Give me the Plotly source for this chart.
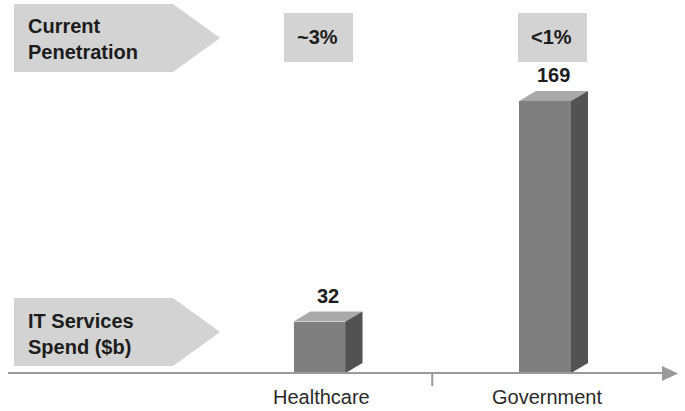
import plotly.graph_objects as go

# Data
categories = ["Healthcare", "Government"]
it_spend = [32, 169]                 # IT services spend, $b
penetration = ["~3%", "<1%"]         # current penetration
row_labels = ["Current<br>Penetration", "IT Services<br>Spend ($b)"]

W, H = 685, 411
FONT = "Liberation Sans, Arial, sans-serif"
TEXT = "#1c1c1c"
PANEL = "#d3d3d3"
FRONT, TOP, SIDE = "#7f7f7f", "#a9a9a9", "#525252"
AXIS = "#9a9a9a"

# Axis scales (data units per pixel)
px_per_x = 225.5
px_per_y = 1.6095
x0 = -319.5 / px_per_x
x_range = [x0, x0 + W / px_per_x]
y0 = -(H - 373) / px_per_y
y_range = [y0, y0 + H / px_per_y]

bar_w = 52 / px_per_x
depth_x = 17 / px_per_x
depth_y = 10 / px_per_y

xs = list(range(len(categories)))

fig = go.Figure()

# Front faces
fig.add_trace(go.Bar(x=xs, y=it_spend, width=bar_w, marker=dict(color=FRONT, line=dict(width=0)),
                     hoverinfo="skip", showlegend=False))

# Top and side faces for the 3D look
for x, v in zip(xs, it_spend):
    l, r = x - bar_w / 2, x + bar_w / 2
    fig.add_trace(go.Scatter(
        x=[l, r, r + depth_x, l + depth_x, l], y=[v, v, v + depth_y, v + depth_y, v],
        fill="toself", fillcolor=TOP, mode="lines", line=dict(width=0, color=TOP),
        hoverinfo="skip", showlegend=False))
    fig.add_trace(go.Scatter(
        x=[r, r + depth_x, r + depth_x, r, r], y=[0, depth_y, v + depth_y, v, 0],
        fill="toself", fillcolor=SIDE, mode="lines", line=dict(width=0, color=SIDE),
        hoverinfo="skip", showlegend=False))


def px(x, y):
    return x / W, 1 - y / H


def path(points):
    pts = [px(x, y) for x, y in points]
    return "M " + " L ".join(f"{a:.5f},{b:.5f}" for a, b in pts) + " Z"


shapes = []
# Row header arrows
for top, bot in [(4, 72), (298, 366)]:
    mid = (top + bot) / 2
    shapes.append(dict(type="path", xref="paper", yref="paper",
                       path=path([(14, top), (173, top), (220, mid), (173, bot), (14, bot)]),
                       fillcolor=PANEL, line=dict(width=0), layer="below"))

# Penetration boxes (pixel centres)
box_centers = [318.5, 552.5]
box_half = 34.5
for cx in box_centers:
    shapes.append(dict(type="rect", xref="paper", yref="paper",
                       x0=(cx - box_half) / W, x1=(cx + box_half) / W,
                       y0=1 - 62 / H, y1=1 - 13 / H,
                       fillcolor=PANEL, line=dict(width=0), layer="below"))

# Baseline axis with arrowhead and category divider
shapes.append(dict(type="line", xref="paper", yref="y", x0=8 / W, x1=664 / W, y0=0, y1=0,
                   line=dict(color=AXIS, width=2)))
shapes.append(dict(type="path", xref="paper", yref="paper",
                   path=path([(662, 366), (678, 373.5), (662, 381)]),
                   fillcolor=AXIS, line=dict(width=0)))
shapes.append(dict(type="line", xref="x", yref="paper", x0=0.5, x1=0.5,
                   y0=1 - 386 / H, y1=1 - 373 / H, line=dict(color=AXIS, width=2)))

annotations = []
# Row header text
for label, cy in zip(row_labels, [39, 334]):
    annotations.append(dict(text=label, xref="paper", yref="paper", x=26 / W, y=1 - cy / H,
                            xanchor="left", yanchor="middle", align="left", showarrow=False,
                            font=dict(family=FONT, size=20, color=TEXT, weight="bold")))

# Penetration labels
for p, cx in zip(penetration, box_centers):
    annotations.append(dict(text=p, x=(cx - 1) / W, y=1 - 37 / H, xref="paper", yref="paper",
                            xanchor="center", yanchor="middle", showarrow=False,
                            font=dict(family=FONT, size=20, color=TEXT, weight="bold")))

for x, v, c in zip(xs, it_spend, categories):
    # Value labels
    annotations.append(dict(text=str(v), x=x + depth_x / 2, y=v + depth_y, xref="x", yref="y",
                            xanchor="center", yanchor="bottom", yshift=3, showarrow=False,
                            font=dict(family=FONT, size=20, color=TEXT, weight="bold")))
    # Category labels
    annotations.append(dict(text=c, x=x + 0.01, y=0, xref="x", yref="y",
                            xanchor="center", yanchor="middle",
                            yshift=-24, showarrow=False,
                            font=dict(family=FONT, size=20, color="#2a2a2a")))

fig.update_layout(
    width=W, height=H, margin=dict(l=0, r=0, t=0, b=0),
    paper_bgcolor="white", plot_bgcolor="white",
    xaxis=dict(range=x_range, visible=False, fixedrange=True),
    yaxis=dict(range=y_range, visible=False, fixedrange=True),
    shapes=shapes, annotations=annotations, bargap=0, showlegend=False,
)

fig.write_html("out.html")
